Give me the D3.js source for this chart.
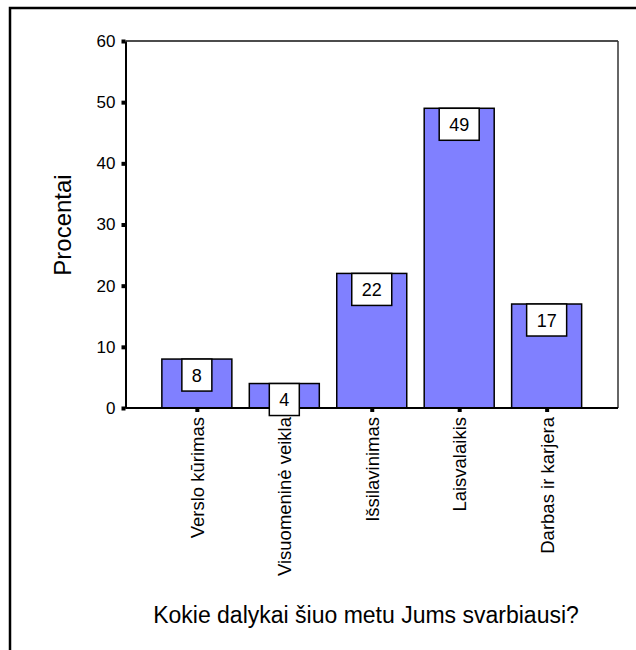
<!DOCTYPE html>
<html><head><meta charset="utf-8">
<script src="https://cdn.jsdelivr.net/npm/d3@7"></script>
<style>body{margin:0;background:#fff}svg{display:block;font-family:Arial,"Liberation Sans",sans-serif}</style>
</head><body>
<svg id="c" width="636" height="650"></svg>
<script>
const categories = ["Verslo kūrimas","Visuomeninė veikla","Išsilavinimas","Laisvalaikis","Darbas ir karjera"];
const values = [8,4,22,49,17];
const yTicks = [0,10,20,30,40,50,60];
const yTitle = "Procentai";
const xTitle = "Kokie dalykai šiuo metu Jums svarbiausi?";

const svg = d3.select("#c");
const L = 125.5, R = 618, T = 41, B = 408;
const FF = "Arial, 'Liberation Sans', sans-serif";

// outer frame
svg.append("rect").attr("x",10).attr("y",8).attr("width",700).attr("height",700)
  .attr("fill","none").attr("stroke","#000").attr("stroke-width",2.5);

const x = d3.scalePoint().domain(categories).range([L,R]).padding(0.816);
const y = d3.scaleLinear().domain([0,60]).range([B,T]);
const bw = 70;

// plot frame top & right
svg.append("line").attr("x1",L).attr("x2",R).attr("y1",T).attr("y2",T).attr("stroke","#111").attr("stroke-width",1.5);
svg.append("line").attr("x1",R).attr("x2",R).attr("y1",T).attr("y2",B).attr("stroke","#333").attr("stroke-width",1.5);

// bars
svg.selectAll("rect.bar").data(values).join("rect").attr("class","bar")
  .attr("x",(d,i)=>x(categories[i])-bw/2).attr("width",bw)
  .attr("y",d=>y(d)).attr("height",d=>y(0)-y(d))
  .attr("fill","#8080FF").attr("stroke","#000").attr("stroke-width",1.5);

// axes
const yAxis = d3.axisLeft(y).tickValues(yTicks).tickSize(0).tickPadding(10);
const gy = svg.append("g").attr("transform",`translate(${L},0)`).call(yAxis)
  .attr("font-size",17).attr("font-family",FF);
gy.select(".domain").attr("stroke","#000").attr("stroke-width",2);
gy.selectAll("text").attr("fill","#000");
gy.selectAll(".tick").append("rect").attr("x",-4).attr("y",-2).attr("width",4).attr("height",4).attr("fill","#000");

const xAxis = d3.axisBottom(x).tickSize(0).tickPadding(0);
const gx = svg.append("g").attr("transform",`translate(0,${B})`).call(xAxis)
  .attr("font-size",18.5).attr("font-family",FF);
gx.select(".domain").remove();
svg.append("line").attr("x1",L).attr("x2",R).attr("y1",B).attr("y2",B).attr("stroke","#000").attr("stroke-width",2);
gx.selectAll(".tick").append("rect").attr("x",-2).attr("y",0).attr("width",4).attr("height",4).attr("fill","#000");
gx.selectAll("text").attr("fill","#000")
  .attr("transform","rotate(-90)").attr("text-anchor","end").attr("x",-9).attr("y",0).attr("dy","0.35em");

// value labels
const lab = svg.append("g").attr("font-family",FF).selectAll("g").data(values).join("g")
  .attr("transform",(d,i)=>`translate(${x(categories[i])},${y(d)+16})`);
lab.append("rect").attr("x",d=>String(d).length>1?-20:-15).attr("width",d=>String(d).length>1?40:30)
  .attr("y",-16).attr("height",32).attr("fill","#fff").attr("stroke","#000").attr("stroke-width",1.5);
lab.append("text").text(d=>d).attr("text-anchor","middle").attr("dy","0.36em").attr("font-size",18);

// titles
svg.append("text").text(yTitle).attr("transform","translate(71,225) rotate(-90)")
  .attr("text-anchor","middle").attr("font-size",24).attr("font-family",FF);
svg.append("text").text(xTitle).attr("x",366).attr("y",623).attr("text-anchor","middle").attr("font-size",23).attr("font-family",FF);
</script>
</body></html>
